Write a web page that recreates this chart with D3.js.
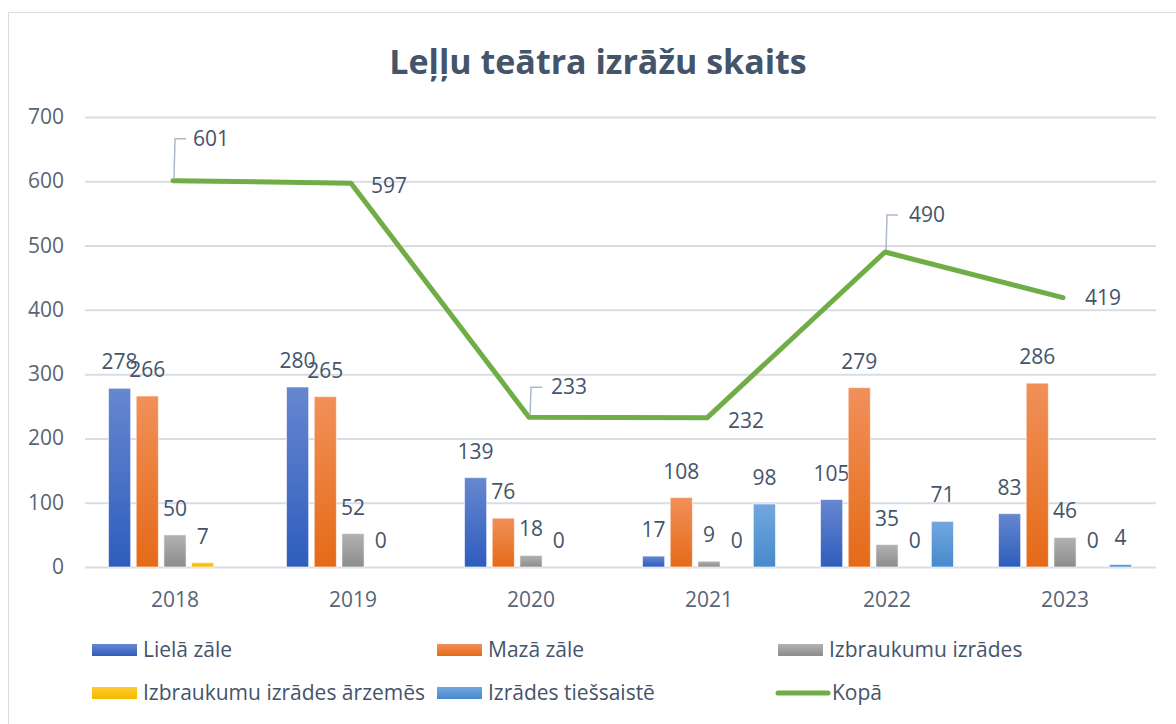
<!DOCTYPE html>
<html lang="lv">
<head>
<meta charset="UTF-8">
<script src="https://cdn.jsdelivr.net/npm/d3@7"></script>
<title>Leļļu teātra izrāžu skaits</title>
<style>
    body { margin: 0; background: #fff; }
    text { font-family: "Open Sans", "Noto Sans", sans-serif; }
</style>
</head>
<body>
<script>
    var years = ["2018", "2019", "2020", "2021", "2022", "2023"];
    var seriesNames = ["Lielā zāle", "Mazā zāle", "Izbraukumu izrādes", "Izbraukumu izrādes ārzemēs", "Izrādes tiešsaistē"];
    var lielaZale = [278, 280, 139, 17, 105, 83];
    var mazaZale = [266, 265, 76, 108, 279, 286];
    var izbraukumi = [50, 52, 18, 9, 35, 46];
    var arzemes = [7, 0, 0, 0, 0, 0];
    var tiessaiste = [null, null, null, 98, 71, 4];
    var kopa = [601, 597, 233, 232, 490, 419];
    var yTicks = [0, 100, 200, 300, 400, 500, 600, 700];

    var barSeries = [lielaZale, mazaZale, izbraukumi, arzemes, tiessaiste];
    // top / bottom gradient colours per series
    var grads = [["#6787d0", "#2e5dbd"], ["#f1905a", "#e56a17"], ["#b2b2b2", "#8c8c8c"], ["#ffcb2e", "#f5b800"], ["#72a8de", "#4789cd"]];
    // label offset of the totals from their point: dx, dy, leader line?
    var lineLabelPos = [[38, -42, true], [38, 3, false], [40, -30, true], [39, 3, false], [42, -37, true], [40, 0, false]];

    var W = 1176, H = 724;
    var svg = d3.select("body").append("svg").attr("width", W).attr("height", H);
    var textCol = "#44546a";
    var fs = 21;

    svg.append("rect").attr("x", 8.5).attr("y", 12.5).attr("width", 1200).attr("height", 800)
        .attr("fill", "none").attr("stroke", "#d9dde3");

    var defs = svg.append("defs");
    grads.forEach(function(g, i) {
        var lg = defs.append("linearGradient").attr("id", "g" + i).attr("x1", 0).attr("y1", 0).attr("x2", 0).attr("y2", 1);
        lg.append("stop").attr("offset", "0%").attr("stop-color", g[0]);
        lg.append("stop").attr("offset", "100%").attr("stop-color", g[1]);
    });

    var x0 = d3.scaleBand().domain(years).range([86, 1154]);
    var x1 = d3.scaleBand().domain(d3.range(5)).range([0, 133]).paddingInner(0.2);
    var y = d3.scaleLinear().domain([0, 700]).range([567, 117]);

    svg.append("text").attr("x", 598).attr("y", 74).attr("text-anchor", "middle")
        .attr("font-size", 34).attr("font-weight", "bold").attr("fill", textCol)
        .text("Leļļu teātra izrāžu skaits");

    // grid
    svg.append("g").selectAll("line").data(yTicks).enter().append("line")
        .attr("x1", 85).attr("x2", 1156)
        .attr("y1", function(d) { return y(d) + 0.5; }).attr("y2", function(d) { return y(d) + 0.5; })
        .attr("stroke", "#d9dde3").attr("stroke-width", 2);

    svg.append("g").selectAll("text").data(yTicks).enter().append("text")
        .attr("x", 64).attr("y", function(d) { return y(d) + 7; })
        .attr("text-anchor", "end").attr("font-size", fs).attr("fill", "#5a6474")
        .text(function(d) { return d; });

    svg.append("g").selectAll("text").data(years).enter().append("text")
        .attr("x", function(d) { return x0(d) + x0.bandwidth() / 2; }).attr("y", 607)
        .attr("text-anchor", "middle").attr("font-size", fs).attr("fill", "#5a6474")
        .text(function(d) { return d; });

    var groupOff = (x0.bandwidth() - 133) / 2;
    var bw = x1.bandwidth();

    barSeries.forEach(function(vals, si) {
        var g = svg.append("g");
        var pts = years.map(function(yr, i) { return { year: yr, v: vals[i] }; }).filter(function(d) { return d.v !== null; });
        g.selectAll("rect").data(pts).enter().append("rect")
            .attr("x", function(d) { return x0(d.year) + groupOff + x1(si); })
            .attr("y", function(d) { return y(d.v); })
            .attr("width", bw)
            .attr("height", function(d) { return y(0) - y(d.v); })
            .attr("fill", "url(#g" + si + ")")
            .attr("stroke", "rgba(255,255,255,0.6)").attr("stroke-width", 1);
        g.selectAll("text").data(pts).enter().append("text")
            .attr("x", function(d) { return x0(d.year) + groupOff + x1(si) + bw / 2; })
            .attr("y", function(d) { return y(d.v) - 19; })
            .attr("text-anchor", "middle").attr("font-size", fs).attr("fill", textCol)
            .text(function(d) { return d.v; });
    });

    // total line
    var cx = function(i) { return x0(years[i]) + x0.bandwidth() / 2 - 2; };
    var line = d3.line().x(function(d, i) { return cx(i); }).y(function(d) { return y(d); });
    svg.append("path").datum(kopa).attr("d", line).attr("fill", "none")
        .attr("stroke", "#70ad47").attr("stroke-width", 5).attr("stroke-linecap", "round").attr("stroke-linejoin", "round");

    kopa.forEach(function(v, i) {
        var p = lineLabelPos[i];
        var px = cx(i), py = y(v);
        var tx = px + p[0], ty = py + p[1];
        if (p[2]) {
            svg.append("path").attr("d", "M" + (px + 1) + "," + (py - 2) + "L" + (px + 2) + "," + ty + "L" + (px + 13) + "," + ty)
                .attr("fill", "none").attr("stroke", "#adb9c9").attr("stroke-width", 1.5);
        }
        svg.append("text").attr("x", tx).attr("y", ty + 7).attr("text-anchor", "middle")
            .attr("font-size", fs).attr("fill", textCol).text(v);
    });

    // legend
    var legend = [
        { name: seriesNames[0], x: 92, y: 650, k: 0 },
        { name: seriesNames[1], x: 437, y: 650, k: 1 },
        { name: seriesNames[2], x: 778, y: 650, k: 2 },
        { name: seriesNames[3], x: 92, y: 693, k: 3 },
        { name: seriesNames[4], x: 437, y: 693, k: 4 },
        { name: "Kopā", x: 776, y: 693, k: -1 }
    ];
    var lg = svg.append("g").selectAll("g").data(legend).enter().append("g")
        .attr("transform", function(d) { return "translate(" + d.x + "," + d.y + ")"; });
    lg.each(function(d) {
        var s = d3.select(this);
        if (d.k >= 0) {
            s.append("rect").attr("x", 0).attr("y", -6).attr("width", 45).attr("height", 12)
                .attr("fill", "url(#g" + d.k + ")");
        } else {
            s.append("line").attr("x1", 2).attr("x2", 52).attr("y1", 0).attr("y2", 0)
                .attr("stroke", "#70ad47").attr("stroke-width", 5).attr("stroke-linecap", "round");
        }
    });
    lg.append("text").attr("x", function(d) { return d.k >= 0 ? 51 : 56; }).attr("y", 7)
        .attr("font-size", fs).attr("fill", textCol).text(function(d) { return d.name; });
</script>
</body>
</html>
